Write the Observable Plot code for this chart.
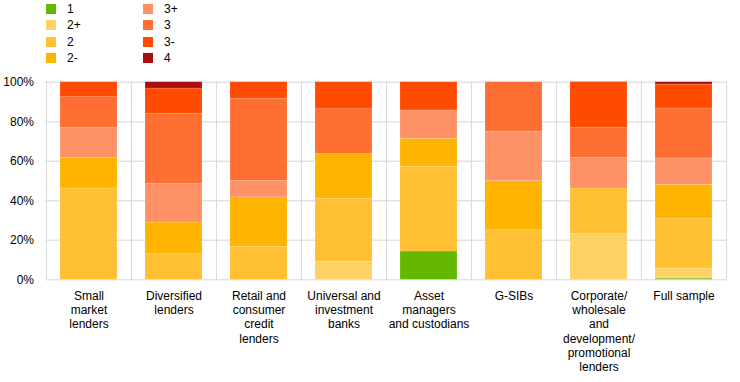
<!DOCTYPE html>
<html>
<head>
<meta charset="utf-8">
<script src="https://cdn.jsdelivr.net/npm/d3@7"></script>
<script src="https://cdn.jsdelivr.net/npm/@observablehq/plot@0.6"></script>
<style>
  html, body { margin: 0; padding: 0; background: #fff; }
  body { width: 740px; height: 382px; overflow: hidden; font-family: "Liberation Sans", Arial, sans-serif; }
  #legend { position: relative; height: 66px; width: 740px; }
  .item { position: absolute; height: 16.5px; font-size: 12px; color: #000; }
  .sw { position: absolute; left: 0; top: 3.25px; width: 10px; height: 10px; }
  .lb { position: absolute; left: 21px; top: 0; line-height: 16.5px; white-space: nowrap; }
</style>
</head>
<body>
<div id="legend"></div>
<div id="chart"></div>
<script>
// Categories (x axis) and their display labels
const categories = ["Small market lenders", "Diversified lenders", "Retail and consumer credit lenders",
  "Universal and investment banks", "Asset managers and custodians", "G-SIBs",
  "Corporate/wholesale and development/promotional lenders", "Full sample"];
const categoryLabels = ["Small\nmarket\nlenders", "Diversified\nlenders", "Retail and\nconsumer\ncredit\nlenders",
  "Universal and\ninvestment\nbanks", "Asset\nmanagers\nand custodians", "G-SIBs",
  "Corporate/\nwholesale\nand\ndevelopment/\npromotional\nlenders", "Full sample"];

// Rating series (bottom to top), percentage shares per category
const ratings = ["1", "2+", "2", "2-", "3+", "3", "3-", "4"];
const colors  = ["#65b800", "#ffd266", "#ffc133", "#ffb400", "#ff9166", "#ff6e33", "#ff4b00", "#a90e12"];
const r1  = [0, 0, 0, 0, 14.3, 0, 0, 0.6];
const r2p = [0, 0, 0, 9.1, 0, 0, 23.1, 5.1];
const r2  = [46.2, 12.9, 16.7, 31.8, 42.9, 25, 23.1, 25.3];
const r2m = [15.4, 16.1, 25, 22.7, 14.2, 25, 0, 17.1];
const r3p = [15.4, 19.4, 8.3, 0, 14.3, 25, 15.4, 13.3];
const r3  = [15.4, 35.5, 41.7, 22.7, 0, 25, 15.4, 25.3];
const r3m = [7.6, 12.9, 8.3, 13.7, 14.3, 0, 23.1, 12.1];
const r4  = [0, 3.2, 0, 0, 0, 0, 0, 1.2];
const yTicks = [0, 20, 40, 60, 80, 100];

const series = [r1, r2p, r2, r2m, r3p, r3, r3m, r4];
const data = [];
ratings.forEach((r, i) => categories.forEach((c, j) => data.push({category: c, rating: r, value: series[i][j]})));
const labelOf = new Map(categories.map((c, i) => [c, categoryLabels[i]]));

// Legend (column-major, two columns of four)
const legend = document.getElementById("legend");
ratings.forEach((r, i) => {
  const col = Math.floor(i / 4), row = i % 4;
  const el = document.createElement("div");
  el.className = "item";
  el.style.left = (46 + col * 97) + "px";
  el.style.top = (0.5 + row * 16.5) + "px";
  el.innerHTML = `<div class="sw" style="background:${colors[i]}"></div><div class="lb">${r}</div>`;
  legend.appendChild(el);
});

const width = 740, height = 316, marginLeft = 45.5, marginRight = 13.3;
const step = (width - marginLeft - marginRight) / categories.length;

const chart = Plot.plot({
  width, height,
  marginTop: 15.7, marginBottom: 102.7, marginLeft, marginRight,
  style: {fontFamily: "'Liberation Sans', Arial, sans-serif", fontSize: "12px", color: "#000", background: "#fff"},
  x: {domain: categories, paddingInner: 1/3, paddingOuter: 1/6, axis: null},
  y: {domain: [0, 100], axis: null},
  color: {domain: ratings, range: colors},
  marks: [
    Plot.ruleY(yTicks, {stroke: "#e3e3e3", strokeWidth: 1.5}),
    Plot.ruleX(categories, {x: d => d, y1: 0, y2: 100, dx: -step / 2, stroke: "#d9d9d9", strokeWidth: 1}),
    Plot.ruleX(categories.slice(-1), {x: d => d, y1: 0, y2: 100, dx: step / 2, stroke: "#d9d9d9", strokeWidth: 1}),
    Plot.barY(data, {x: "category", y: "value", fill: "rating", stroke: "#fff", strokeOpacity: 0.25, strokeWidth: 0.6}),
    Plot.axisY({ticks: yTicks, tickSize: 0, tickPadding: 12, tickFormat: d => d + "%", fontSize: 12, label: null}),
    Plot.text(categories, {x: d => d, frameAnchor: "bottom", dy: 10, lineAnchor: "top", lineHeight: 1.19,
      text: d => labelOf.get(d), fontSize: 12, fill: "#000"})
  ]
});
document.getElementById("chart").appendChild(chart);
</script>
</body>
</html>
